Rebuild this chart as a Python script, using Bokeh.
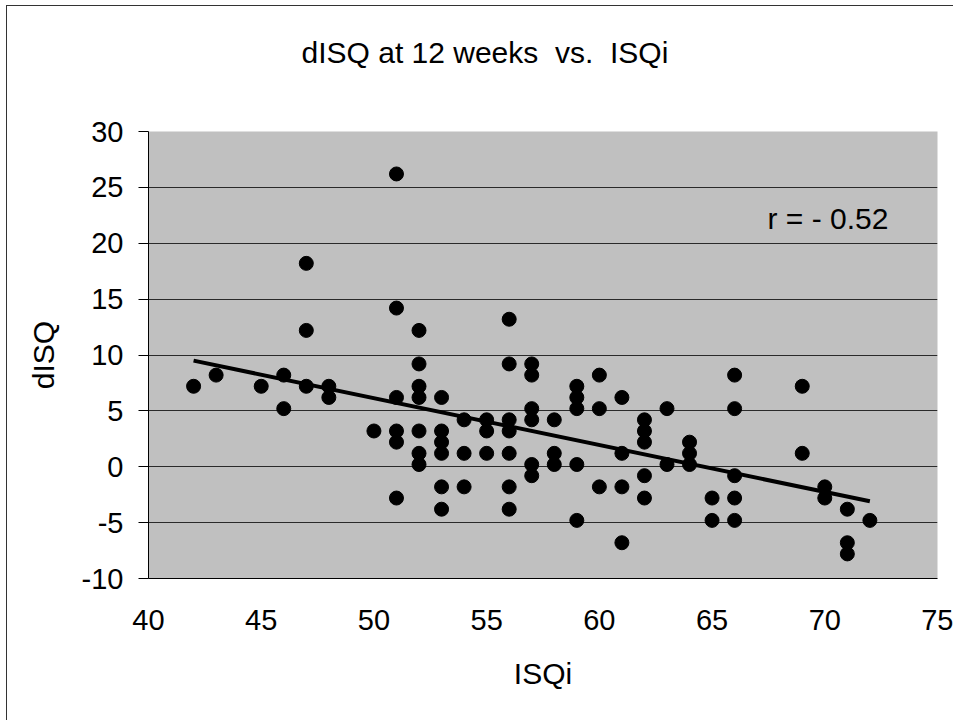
import numpy as np
from bokeh.plotting import figure
from bokeh.models import ColumnDataSource, Range1d, FixedTicker, Label, Title
from bokeh.embed import file_html
from bokeh.resources import INLINE

# ISQi (x) and dISQ at 12 weeks (y)
isqi = [42, 43, 45, 46, 46, 47, 47, 47, 48, 48, 50,
        51, 51, 51, 51, 51, 51,
        52, 52, 52, 52, 52, 52, 52,
        53, 53, 53, 53, 53, 53,
        54, 54, 54,
        55, 55, 55,
        56, 56, 56, 56, 56, 56, 56,
        57, 57, 57, 57, 57, 57,
        58, 58, 58,
        59, 59, 59, 59, 59,
        60, 60, 60,
        61, 61, 61, 61,
        62, 62, 62, 62, 62,
        63, 63,
        64, 64, 64,
        65, 65,
        66, 66, 66, 66, 66,
        69, 69,
        70, 70,
        71, 71, 71,
        72]
disq = [7.2, 8.2, 7.2, 8.2, 5.2, 18.2, 12.2, 7.2, 7.2, 6.2, 3.2,
        26.2, 14.2, 6.2, 3.2, 2.2, -2.8,
        12.2, 9.2, 7.2, 6.2, 3.2, 1.2, 0.2,
        6.2, 3.2, 2.2, 1.2, -1.8, -3.8,
        4.2, 1.2, -1.8,
        4.2, 3.2, 1.2,
        13.2, 9.2, 4.2, 3.2, 1.2, -1.8, -3.8,
        9.2, 8.2, 5.2, 4.2, 0.2, -0.8,
        4.2, 1.2, 0.2,
        7.2, 6.2, 5.2, 0.2, -4.8,
        8.2, 5.2, -1.8,
        6.2, 1.2, -1.8, -6.8,
        4.2, 3.2, 2.2, -0.8, -2.8,
        5.2, 0.2,
        2.2, 1.2, 0.2,
        -2.8, -4.8,
        8.2, 5.2, -0.8, -2.8, -4.8,
        7.2, 1.2,
        -1.8, -2.8,
        -3.8, -6.8, -7.8,
        -4.8]

x_ticks = [40, 45, 50, 55, 60, 65, 70, 75]
y_ticks = [-10, -5, 0, 5, 10, 15, 20, 25, 30]
title_text = "dISQ at 12 weeks \u00a0vs. \u00a0ISQi"
r_text = "r = - 0.52"

FONT = "Liberation Sans"

p = figure(width=946, height=714, output_backend="svg", toolbar_location=None,
           x_range=Range1d(40, 75), y_range=Range1d(-10, 30),
           frame_width=789, frame_height=447,
           min_border_left=141, min_border_top=125,
           min_border_right=16, min_border_bottom=142,
           title_location=None)
p.styles = {"border-left": "1px solid #333333", "border-top": "1px solid #333333",
            "margin-left": "6px", "margin-top": "5px"}

p.background_fill_color = "#C0C0C0"
p.border_fill_color = "white"
p.outline_line_color = None

# gap between the plot area and the title (inner panel), then the title itself
spacer = Title(text=" ", text_font_size="1px", standoff=60, text_color="white")
p.add_layout(spacer, "above")
main_title = Title(text=title_text, text_font=FONT, text_font_size="30px",
                   text_font_style="normal", text_color="black",
                   align="left", offset=153, standoff=0)
p.add_layout(main_title, "above")

p.xgrid.grid_line_color = None
p.ygrid.grid_line_color = "#2a2a2a"
p.ygrid.grid_line_width = 1

p.xaxis.ticker = FixedTicker(ticks=x_ticks)
p.yaxis.ticker = FixedTicker(ticks=y_ticks)
p.yaxis.major_label_overrides = {t: str(t) for t in y_ticks}
p.xaxis.major_label_overrides = {t: str(t) for t in x_ticks}
for ax in (p.xaxis[0], p.yaxis[0]):
    ax.axis_line_color = "black"
    ax.axis_line_width = 1
    ax.major_label_text_font = FONT
    ax.major_label_text_font_size = "29px"
    ax.major_label_text_color = "black"
    ax.axis_label_text_font = FONT
    ax.axis_label_text_font_size = "30px"
    ax.axis_label_text_font_style = "normal"
    ax.axis_label_text_color = "black"
    ax.minor_tick_line_color = None

p.xaxis.axis_label = "ISQi"
p.xaxis.major_tick_out = 0
p.xaxis.major_tick_in = 0
p.xaxis.major_label_standoff = 31
p.xaxis.axis_label_standoff = 24

p.yaxis.axis_label = "dISQ"
p.yaxis.major_tick_out = 10
p.yaxis.major_tick_in = 0
p.yaxis.major_tick_line_color = "black"
p.yaxis.major_label_standoff = 15
p.yaxis.axis_label_standoff = 19

src = ColumnDataSource(data=dict(x=isqi, y=disq))
p.scatter("x", "y", source=src, size=14, marker="circle",
          fill_color="black", line_color="black")

# linear trend line (least squares) across the data range
slope, intercept = np.polyfit(isqi, disq, 1)
tx = [min(isqi), max(isqi)]
ty = [slope * v + intercept for v in tx]
p.line(tx, ty, line_color="black", line_width=4)

p.add_layout(Label(x=67.46, y=22.2, text=r_text, text_font=FONT,
                   text_font_size="30px", text_color="black",
                   text_align="left", text_baseline="middle"))

open("out.html", "w").write(file_html(p, INLINE))
